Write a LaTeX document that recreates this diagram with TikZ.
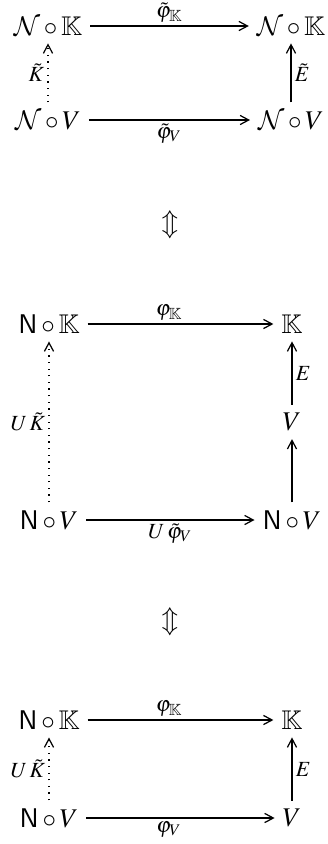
\documentclass[tikz,border=0pt]{standalone}
\usepackage{amsmath,amssymb}
\usepackage{mathptmx}
\DeclareMathAlphabet{\mathcal}{OMS}{cmsy}{m}{n}
\usetikzlibrary{arrows.meta}

\begin{document}
\begin{tikzpicture}[x=0.37pt, y=-0.37pt,
    obj/.style={inner sep=2.8pt},
    arr/.style={-{Straight Barb[length=3.2pt,width=3.4pt]}, line width=0.45pt},
    lbl/.style={font=\footnotesize, inner sep=1.2pt}
]
    \useasboundingbox (0,0) rectangle (327,844);

    % First square
    \node[obj] (nk1) at (48,26) {$\mathcal{N}\circ\mathbb{K}$};
    \node[obj] (nkr1) at (291,26) {$\mathcal{N}\circ\mathbb{K}$};
    \node[obj] (nv1) at (48,120) {$\mathcal{N}\circ V$};
    \node[obj] (nvr1) at (291,120) {$\mathcal{N}\circ V$};
    \draw[arr] (nk1) -- node[lbl,above] {$\tilde{\varphi}_{\mathbb{K}}$} (nkr1);
    \draw[arr] (nv1) -- node[lbl,below] {$\tilde{\varphi}_V$} (nvr1);
    \draw[arr,dotted] (nv1) -- node[lbl,left] {$\tilde{K}$} (nk1);
    \draw[arr] (nvr1) -- node[lbl,right] {$\tilde{E}$} (nkr1);

    % Equivalence
    \node (eq1) at (170,225) {$\Updownarrow$};

    % Second square
    \node[obj] (nk2) at (49,324) {$\mathsf{N}\circ\mathbb{K}$};
    \node[obj] (k2) at (292,324) {$\mathbb{K}$};
    \node[obj] (v2) at (292,422) {$V$};
    \node[obj] (nv2) at (49,520) {$\mathsf{N}\circ V$};
    \node[obj] (nvr2) at (292,520) {$\mathsf{N}\circ V$};
    \draw[arr] (nk2) -- node[lbl,above,pos=0.44] {$\varphi_{\mathbb{K}}$} (k2);
    \draw[arr] (nv2) -- node[lbl,below] {$U\mkern2mu\tilde{\varphi}_V$} (nvr2);
    \draw[arr,dotted] (nv2) -- node[lbl,left] {$U\mkern2mu\tilde{K}$} (nk2);
    \draw[arr] (v2) -- node[lbl,right] {$E$} (k2);
    \draw[arr] (nvr2) -- (v2);

    % Equivalence
    \node (eq2) at (170,622) {$\Updownarrow$};

    % Third square
    \node[obj] (nk3) at (49,720) {$\mathsf{N}\circ\mathbb{K}$};
    \node[obj] (k3) at (292,720) {$\mathbb{K}$};
    \node[obj] (nv3) at (49,818) {$\mathsf{N}\circ V$};
    \node[obj] (v3) at (292,818) {$V$};
    \draw[arr] (nk3) -- node[lbl,above,pos=0.44] {$\varphi_{\mathbb{K}}$} (k3);
    \draw[arr] (nv3) -- node[lbl,below,pos=0.44] {$\varphi_V$} (v3);
    \draw[arr,dotted] (nv3) -- node[lbl,left] {$U\mkern2mu\tilde{K}$} (nk3);
    \draw[arr] (v3) -- node[lbl,right] {$E$} (k3);
\end{tikzpicture}
\end{document}
